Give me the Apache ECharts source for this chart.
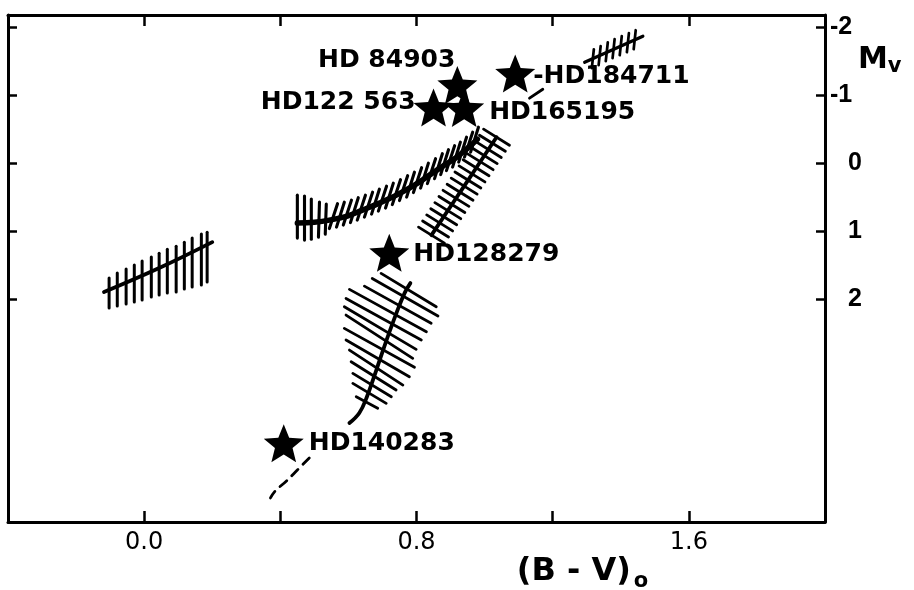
<!DOCTYPE html>
<html>
<head>
<meta charset="utf-8">
<script src="https://cdn.jsdelivr.net/npm/echarts@6.0.0/dist/echarts.min.js"></script>
<style>
  html, body { margin: 0; padding: 0; background: #ffffff; }
  #chart { width: 914px; height: 590px; }
</style>
</head>
<body>
<div id="chart"></div>
<script>
// ---------------- data ----------------
const xTickValues = [0.0, 0.4, 0.8, 1.2, 1.6];
const xLabelValues = [0.0, 0.8, 1.6];
const yTickValues = [-2, -1, 0, 1, 2];

const starNames = ['HD 84903', 'HD122 563', 'HD165195', '-HD184711', 'HD128279', 'HD140283'];
const starBV    = [0.92, 0.85, 0.94, 1.09, 0.72, 0.41];
const starMv    = [-1.15, -0.82, -0.81, -1.32, 1.32, 4.12];

// ridge lines [B-V, Mv]
const ridgeA = [[-0.118, 1.897], [0.044, 1.544], [0.200, 1.162]];
const ridgeB = [[0.450, 0.882], [0.500, 0.868], [0.544, 0.838], [0.597, 0.779], [0.641, 0.691],
                [0.691, 0.588], [0.741, 0.471], [0.794, 0.324], [0.838, 0.176], [0.882, 0.029],
                [0.918, -0.088], [0.950, -0.221], [0.979, -0.353]];
const ridgeC = [[0.844, 1.059], [0.940, 0.338], [1.035, -0.382]];
const ridgeD = [[1.294, -1.485], [1.465, -1.868]];
const ridgeE = [[0.603, 3.824], [0.632, 3.676], [0.653, 3.456], [0.682, 3.044], [0.712, 2.603],
                [0.741, 2.206], [0.765, 1.912], [0.782, 1.765]];
const dashF  = [[0.485, 4.338], [0.450, 4.515], [0.418, 4.676], [0.385, 4.824], [0.371, 4.926]];
const dashG  = [[1.132, -0.956], [1.171, -1.088]];

// hatch strokes [B-V1, Mv1, B-V2, Mv2]
const hatchA = [
  [-0.103, 1.691, -0.103, 2.132], [-0.079, 1.618, -0.079, 2.103], [-0.053, 1.559, -0.053, 2.074],
  [-0.029, 1.500, -0.029, 2.044], [-0.006, 1.441, -0.006, 2.015], [0.021, 1.382, 0.021, 1.971],
  [0.044, 1.324, 0.044, 1.941], [0.068, 1.265, 0.068, 1.912], [0.094, 1.221, 0.094, 1.897],
  [0.118, 1.162, 0.118, 1.853], [0.141, 1.103, 0.141, 1.824], [0.168, 1.044, 0.168, 1.794],
  [0.185, 1.015, 0.185, 1.750]
];
const hatchB = [
  [0.450, 0.471, 0.450, 1.103], [0.471, 0.485, 0.471, 1.132], [0.491, 0.529, 0.491, 1.118],
  [0.515, 0.574, 0.512, 1.088], [0.535, 0.603, 0.532, 1.044], [0.568, 0.596, 0.544, 0.963],
  [0.588, 0.574, 0.565, 0.941], [0.609, 0.544, 0.585, 0.911], [0.629, 0.508, 0.606, 0.875],
  [0.650, 0.471, 0.626, 0.838], [0.671, 0.427, 0.647, 0.794], [0.691, 0.383, 0.668, 0.750],
  [0.712, 0.339, 0.688, 0.706], [0.732, 0.294, 0.709, 0.661], [0.753, 0.243, 0.729, 0.610],
  [0.774, 0.184, 0.750, 0.551], [0.794, 0.133, 0.771, 0.500], [0.815, 0.066, 0.791, 0.433],
  [0.835, 0.000, 0.812, 0.367], [0.856, -0.066, 0.832, 0.301], [0.876, -0.139, 0.853, 0.228],
  [0.894, -0.198, 0.871, 0.169], [0.912, -0.257, 0.888, 0.110], [0.929, -0.309, 0.906, 0.058],
  [0.947, -0.382, 0.924, -0.015], [0.965, -0.456, 0.941, -0.089], [0.982, -0.529, 0.959, -0.162]
];
const hatchC = [
  [0.806, 0.941, 0.882, 1.177], [0.818, 0.851, 0.894, 1.087], [0.830, 0.761, 0.906, 0.997],
  [0.842, 0.671, 0.918, 0.907], [0.854, 0.581, 0.930, 0.817], [0.866, 0.490, 0.942, 0.726],
  [0.878, 0.400, 0.954, 0.636], [0.890, 0.310, 0.966, 0.546], [0.902, 0.220, 0.978, 0.456],
  [0.913, 0.130, 0.989, 0.366], [0.925, 0.040, 1.001, 0.276], [0.937, -0.050, 1.013, 0.186],
  [0.949, -0.140, 1.025, 0.096], [0.961, -0.230, 1.037, 0.006], [0.973, -0.320, 1.049, -0.084],
  [0.985, -0.411, 1.061, -0.175], [0.997, -0.500, 1.073, -0.264]
];
const hatchD = [
  [1.321, -1.676, 1.315, -1.397], [1.341, -1.721, 1.335, -1.441], [1.362, -1.779, 1.356, -1.500],
  [1.382, -1.824, 1.376, -1.544], [1.403, -1.868, 1.397, -1.588], [1.424, -1.912, 1.418, -1.632],
  [1.444, -1.956, 1.438, -1.676]
];
const hatchE = [
  [0.696, 1.622, 0.858, 2.113], [0.670, 1.696, 0.863, 2.250], [0.647, 1.809, 0.843, 2.357],
  [0.603, 1.857, 0.829, 2.481], [0.593, 1.990, 0.814, 2.603], [0.588, 2.113, 0.799, 2.740],
  [0.593, 2.235, 0.789, 2.872], [0.588, 2.431, 0.794, 3.004], [0.593, 2.603, 0.779, 3.143],
  [0.603, 2.750, 0.760, 3.265], [0.608, 2.922, 0.740, 3.338], [0.613, 3.093, 0.726, 3.437],
  [0.613, 3.240, 0.711, 3.534], [0.623, 3.437, 0.686, 3.607]
];

// ---------------- presentation ----------------
const starLabelStyle = [
  { align: 'right', offset: [-2, -25] },
  { align: 'right', offset: [-18, -5] },
  { align: 'left',  offset: [25, 4] },
  { align: 'left',  offset: [18, 3] },
  { align: 'left',  offset: [24, 2] },
  { align: 'left',  offset: [25, 0] }
];
const STAR = 'path://M50,0 L62.93,32.2 L97.55,34.55 L70.92,56.8 L79.39,90.45 L50,72 L20.61,90.45 L29.08,56.8 L2.45,34.55 L37.07,32.2 Z';

function hatchSeries(data, width) {
  return {
    type: 'custom',
    xAxisIndex: 0, yAxisIndex: 0,
    silent: true,
    encode: { x: [0, 2], y: [1, 3] },
    data: data,
    renderItem: function (params, api) {
      const a = api.coord([api.value(0), api.value(1)]);
      const b = api.coord([api.value(2), api.value(3)]);
      return {
        type: 'line',
        shape: { x1: a[0], y1: a[1], x2: b[0], y2: b[1] },
        style: { stroke: '#000', lineWidth: width, lineCap: 'round' }
      };
    }
  };
}
function ridgeSeries(data, width, dashed) {
  return {
    type: 'line', xAxisIndex: 0, yAxisIndex: 0, data: data, smooth: 0.4,
    symbol: 'none', silent: true,
    lineStyle: { color: '#000', width: width, type: dashed ? [9, 7] : 'solid', cap: 'round', opacity: 1 }
  };
}

const axisFont = 'DejaVu Sans';
const yAxisBase = {
  type: 'value', min: -2.18, max: 5.28, inverse: true,
  splitLine: { show: false },
  axisLine: { show: true, onZero: false, lineStyle: { color: '#000', width: 3 } },
  axisTick: { show: true, inside: true, length: 9, customValues: yTickValues, lineStyle: { color: '#000', width: 2.5 } }
};
const xAxisBase = {
  type: 'value', min: -0.4, max: 2.0,
  splitLine: { show: false },
  axisLine: { show: true, onZero: false, lineStyle: { color: '#000', width: 3 } },
  axisTick: { show: true, inside: true, length: 11, customValues: xTickValues, lineStyle: { color: '#000', width: 2.5 } }
};

const chart = echarts.init(document.getElementById('chart'), null, { renderer: 'canvas' });
chart.setOption({
  animation: false,
  backgroundColor: '#ffffff',
  grid: { left: 8, right: 89, top: 15, bottom: 68, containLabel: false, outerBoundsMode: 'none' },
  xAxis: [
    Object.assign({}, xAxisBase, {
      position: 'bottom',
      axisLabel: {
        customValues: xLabelValues, margin: 9, color: '#000',
        fontFamily: axisFont, fontSize: 24,
        formatter: function (v) { return v.toFixed(1); }
      },
      name: '{m|(B - V)}{s|o}',
      nameLocation: 'middle', nameGap: 29, nameMoveOverlap: false,
      nameTextStyle: {
        padding: [0, 0, 0, 332],
        rich: {
          m: { fontFamily: axisFont, fontWeight: 'bold', fontSize: 32, color: '#000' },
          s: { fontFamily: axisFont, fontWeight: 'bold', fontSize: 21, color: '#000', padding: [20, 0, 0, 3] }
        }
      }
    }),
    Object.assign({}, xAxisBase, { position: 'top', axisLabel: { show: false } })
  ],
  yAxis: [
    Object.assign({}, yAxisBase, {
      position: 'right',
      axisLabel: {
        customValues: yTickValues, margin: 5, color: '#000',
        formatter: function (v) { return v < 0 ? '{n|' + v + '}' : '{p|' + v + '}'; },
        rich: {
          n: { fontFamily: 'Liberation Sans', fontWeight: 'bold', fontSize: 25, color: '#000' },
          p: { fontFamily: 'Liberation Sans', fontWeight: 'bold', fontSize: 25, color: '#000', padding: [0, 0, 0, 18] }
        }
      },
      name: '{m|M}{s|v}',
      nameLocation: 'start', nameGap: -45, nameMoveOverlap: false,
      nameTextStyle: {
        align: 'left', verticalAlign: 'middle', padding: [0, 0, 0, 33],
        rich: {
          m: { fontFamily: axisFont, fontWeight: 'bold', fontSize: 30, color: '#000' },
          s: { fontFamily: axisFont, fontWeight: 'bold', fontSize: 21, color: '#000', padding: [14, 0, 0, 0] }
        }
      }
    }),
    Object.assign({}, yAxisBase, { position: 'left', axisLabel: { show: false } })
  ],
  series: [
    hatchSeries(hatchA, 3),
    hatchSeries(hatchB, 3.1),
    hatchSeries(hatchC, 2.8),
    hatchSeries(hatchD, 2.7),
    hatchSeries(hatchE, 2.8),
    ridgeSeries(ridgeA, 3.8, false),
    ridgeSeries(ridgeB, 5.5, false),
    ridgeSeries(ridgeC, 3.8, false),
    ridgeSeries(ridgeD, 3.2, false),
    ridgeSeries(ridgeE, 3.8, false),
    ridgeSeries(dashF, 2.8, true),
    ridgeSeries(dashG, 2.8, false),
    {
      type: 'scatter', xAxisIndex: 0, yAxisIndex: 0,
      symbol: STAR, symbolSize: [40, 38], silent: true,
      itemStyle: { color: '#000', opacity: 1 },
      label: {
        show: true, position: 'inside', formatter: '{b}', color: '#000', opacity: 1,
        fontFamily: axisFont, fontWeight: 'bold', fontSize: 25, verticalAlign: 'middle'
      },
      data: starNames.map(function (n, i) {
        return {
          name: n, value: [starBV[i], starMv[i]],
          label: { align: starLabelStyle[i].align, offset: starLabelStyle[i].offset }
        };
      })
    }
  ]
});
</script>
</body>
</html>
